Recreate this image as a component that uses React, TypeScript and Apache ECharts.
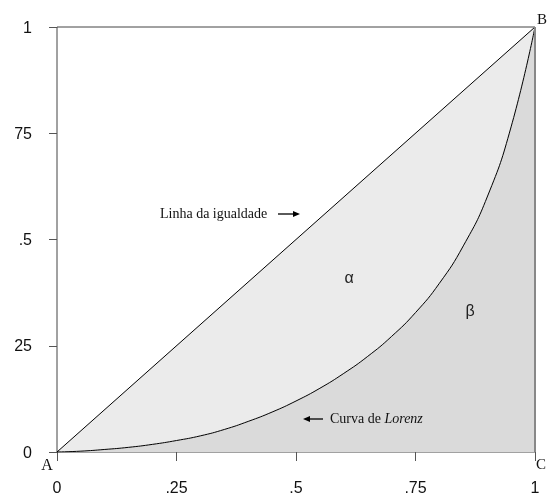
import React, { useEffect, useRef } from "react";
import * as echarts from "echarts";

// Data
const lorenzX = [0, 0.05, 0.1, 0.15, 0.2, 0.25, 0.3, 0.35, 0.4, 0.45, 0.5, 0.55, 0.6, 0.65, 0.7, 0.75, 0.8, 0.85, 0.9, 0.95, 1];
const lorenzY = [0, 0.002, 0.006, 0.011, 0.018, 0.027, 0.038, 0.053, 0.072, 0.094, 0.12, 0.15, 0.185, 0.225, 0.272, 0.328, 0.397, 0.485, 0.6, 0.765, 1];
const equalityX = [0, 1];
const equalityY = [0, 1];
const xTickValues = [0, 0.25, 0.5, 0.75, 1];
const xTickLabels = ["0", ".25", ".5", ".75", "1"];
const yTickLabels = ["0", "25", ".5", "75", "1"];

const W = 547;
const H = 496;
const G = { left: 57, right: 12, top: 27, bottom: 44 };

export default function App() {
  const ref = useRef<HTMLDivElement>(null);
  useEffect(() => {
    if (!ref.current) return;
    const chart = echarts.init(ref.current, undefined, { renderer: "svg" });
    const pw = W - G.left - G.right;
    const ph = H - G.top - G.bottom;
    const px = (v: number) => G.left + v * pw;
    const py = (v: number) => G.top + (1 - v) * ph;
    const labelIdx = (v: number) => xTickValues.findIndex((t) => Math.abs(t - v) < 1e-6);
    const axisFont = '"Liberation Sans Narrow", "Arial Narrow", "Liberation Sans", sans-serif';
    const serif = '"Liberation Serif", "Times New Roman", serif';
    chart.setOption({
      animation: false,
      grid: {
        left: G.left,
        right: G.right,
        top: G.top,
        bottom: G.bottom,
        show: true,
        borderColor: "#444",
        borderWidth: 1,
        backgroundColor: "#fff",
      },
      xAxis: {
        type: "value",
        min: 0,
        max: 1,
        interval: 0.25,
        offset: 20,
        axisLine: { show: false },
        axisTick: { show: true, length: 9, lineStyle: { color: "#555", width: 1 } },
        splitLine: { show: false },
        axisLabel: {
          margin: 7,
          fontFamily: axisFont,
          fontSize: 16,
          color: "#111",
          formatter: (v: number) => {
            const i = labelIdx(v);
            return i >= 0 ? xTickLabels[i] : "";
          },
        },
      },
      yAxis: {
        type: "value",
        min: 0,
        max: 1,
        interval: 0.25,
        offset: 14,
        axisLine: { show: false },
        axisTick: { show: true, length: 8, lineStyle: { color: "#555", width: 1 } },
        splitLine: { show: false },
        axisLabel: {
          margin: 11,
          fontFamily: axisFont,
          fontSize: 16,
          color: "#111",
          formatter: (v: number) => {
            const i = labelIdx(v);
            return i >= 0 ? yTickLabels[i] : "";
          },
        },
      },
      series: [
        {
          type: "line",
          data: equalityX.map((x, i) => [x, equalityY[i]]),
          symbol: "none",
          lineStyle: { color: "#000", width: 1 },
          areaStyle: { color: "#ebebeb", opacity: 1 },
          z: 2,
        },
        {
          type: "line",
          data: lorenzX.map((x, i) => [x, lorenzY[i]]),
          symbol: "none",
          smooth: 0.5,
          lineStyle: { color: "#000", width: 1 },
          areaStyle: { color: "#dadada", opacity: 1 },
          z: 3,
        },
      ],
      graphic: [
        {
          type: "line",
          shape: { x1: px(1), y1: py(1), x2: px(1), y2: py(0) },
          style: { stroke: "#888", lineWidth: 2 },
          z: 10,
        },
        {
          type: "text",
          x: 160,
          y: 213,
          style: { text: "Linha da igualdade", font: `14px ${serif}`, fill: "#111", verticalAlign: "middle" },
          z: 20,
        },
        {
          type: "line",
          shape: { x1: 278, y1: 214, x2: 296, y2: 214 },
          style: { stroke: "#000", lineWidth: 1.3 },
          z: 20,
        },
        {
          type: "polygon",
          shape: { points: [[300, 214], [293, 211], [293, 217]] },
          style: { fill: "#000" },
          z: 20,
        },
        {
          type: "line",
          shape: { x1: 307, y1: 419, x2: 323, y2: 419 },
          style: { stroke: "#000", lineWidth: 1.3 },
          z: 20,
        },
        {
          type: "polygon",
          shape: { points: [[303, 419], [310, 416], [310, 422]] },
          style: { fill: "#000" },
          z: 20,
        },
        {
          type: "text",
          x: 330,
          y: 418,
          style: {
            text: "Curva de {i|Lorenz}",
            font: `14px ${serif}`,
            fill: "#111",
            verticalAlign: "middle",
            rich: { i: { fontFamily: serif, fontSize: 14, fontStyle: "italic", fill: "#111" } },
          },
          z: 20,
        },
        {
          type: "text",
          x: 349,
          y: 277,
          style: { text: "α", font: `16px "Liberation Sans", sans-serif`, fill: "#222", align: "center", verticalAlign: "middle" },
          z: 20,
        },
        {
          type: "text",
          x: 470,
          y: 310,
          style: { text: "β", font: `16px "Liberation Sans", sans-serif`, fill: "#222", align: "center", verticalAlign: "middle" },
          z: 20,
        },
        {
          type: "text",
          x: 47,
          y: 464,
          style: { text: "A", font: `16px ${serif}`, fill: "#111", align: "center", verticalAlign: "middle" },
          z: 20,
        },
        {
          type: "text",
          x: 537,
          y: 19,
          style: { text: "B", font: `15px ${serif}`, fill: "#111", align: "left", verticalAlign: "middle" },
          z: 20,
        },
        {
          type: "text",
          x: 536,
          y: 464,
          style: { text: "C", font: `15px ${serif}`, fill: "#111", align: "left", verticalAlign: "middle" },
          z: 20,
        },
      ],
    });
    return () => chart.dispose();
  }, []);
  return <div ref={ref} style={{ position: "fixed", left: 0, top: 0, width: W, height: H }} />;
}
